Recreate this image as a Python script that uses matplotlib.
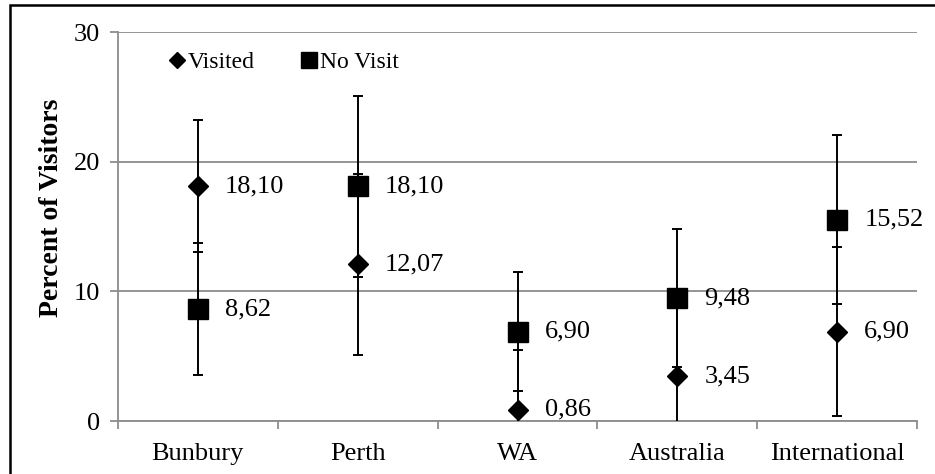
import matplotlib
matplotlib.use('Agg')
import matplotlib.pyplot as plt
from matplotlib.lines import Line2D
from matplotlib.patches import Rectangle
import numpy as np

plt.rcParams['font.family'] = ['Liberation Serif', 'DejaVu Serif']

# data
categories = ['Bunbury', 'Perth', 'WA', 'Australia', 'International']
visited = [18.10, 12.07, 0.86, 3.45, 6.90]
no_visit = [8.62, 18.10, 6.90, 9.48, 15.52]
errors = [5.10, 6.97, 4.60, 5.32, 6.53]

W, H = 935, 474
fig = plt.figure(figsize=(W / 100, H / 100), dpi=100)
ax = fig.add_axes([118 / W, (H - 421) / H, 799 / W, (421 - 32) / H])

x = np.arange(len(categories)) + 0.5
grey = '#8c8c8c'
fs = 19

ax.errorbar(x, visited, yerr=errors, fmt='D', color='black', ms=10.5,
            capsize=3.3, elinewidth=1.4, capthick=1.4, zorder=3)
ax.errorbar(x, no_visit, yerr=errors, fmt='s', color='black', ms=14,
            capsize=3.3, elinewidth=1.4, capthick=1.4, zorder=3)

for xi, v in zip(x, visited):
    ax.annotate('{:.2f}'.format(v).replace('.', ','), (xi, v), xytext=(19.5, 0),
                textcoords='offset points', va='center', ha='left',
                fontsize=fs, annotation_clip=False, zorder=4)
for xi, v in zip(x, no_visit):
    ax.annotate('{:.2f}'.format(v).replace('.', ','), (xi, v), xytext=(19.5, 0),
                textcoords='offset points', va='center', ha='left',
                fontsize=fs, annotation_clip=False, zorder=4)

ax.set_xlim(0, len(categories))
ax.set_ylim(0, 30)
ax.set_yticks([0, 10, 20, 30])
ax.set_xticks(np.arange(len(categories) + 1))
ax.set_xticklabels([])
ax.set_xticks(x, minor=True)
ax.set_xticklabels(categories, minor=True)
ax.tick_params(axis='x', which='major', length=6, width=1.3, color=grey, direction='out')
ax.tick_params(axis='x', which='minor', length=0, pad=16, labelsize=fs)
ax.tick_params(axis='y', length=6, width=1.3, color=grey, pad=7, labelsize=fs)

ax.grid(axis='y', color=grey, linewidth=1.3)
ax.set_axisbelow(True)
for s in ['top', 'right']:
    ax.spines[s].set_visible(False)
for s in ['left', 'bottom']:
    ax.spines[s].set_color(grey)
    ax.spines[s].set_linewidth(1.3)

fig.text(52 / W, 1 - 208 / H, 'Percent of Visitors', rotation=90, ha='center',
         va='center', fontsize=20, fontweight='bold')

handles = [Line2D([], [], marker='D', color='black', ls='none', ms=8),
           Line2D([], [], marker='s', color='black', ls='none', ms=11)]
ax.legend(handles, ['Visited', 'No Visit'], loc='center left', ncol=2,
          bbox_to_anchor=(52 / 799, (421 - 62) / 389), frameon=False,
          handlelength=0.6, handletextpad=0.15, columnspacing=2.0,
          fontsize=17, borderaxespad=0, borderpad=0)

# outer border of the picture
fig.patches.append(Rectangle((9.5 / W, -0.05), 1.2, 1 - 5 / H + 0.05,
                             transform=fig.transFigure, fill=False,
                             edgecolor='black', linewidth=1.8))

fig.savefig('out.png', dpi=100)
